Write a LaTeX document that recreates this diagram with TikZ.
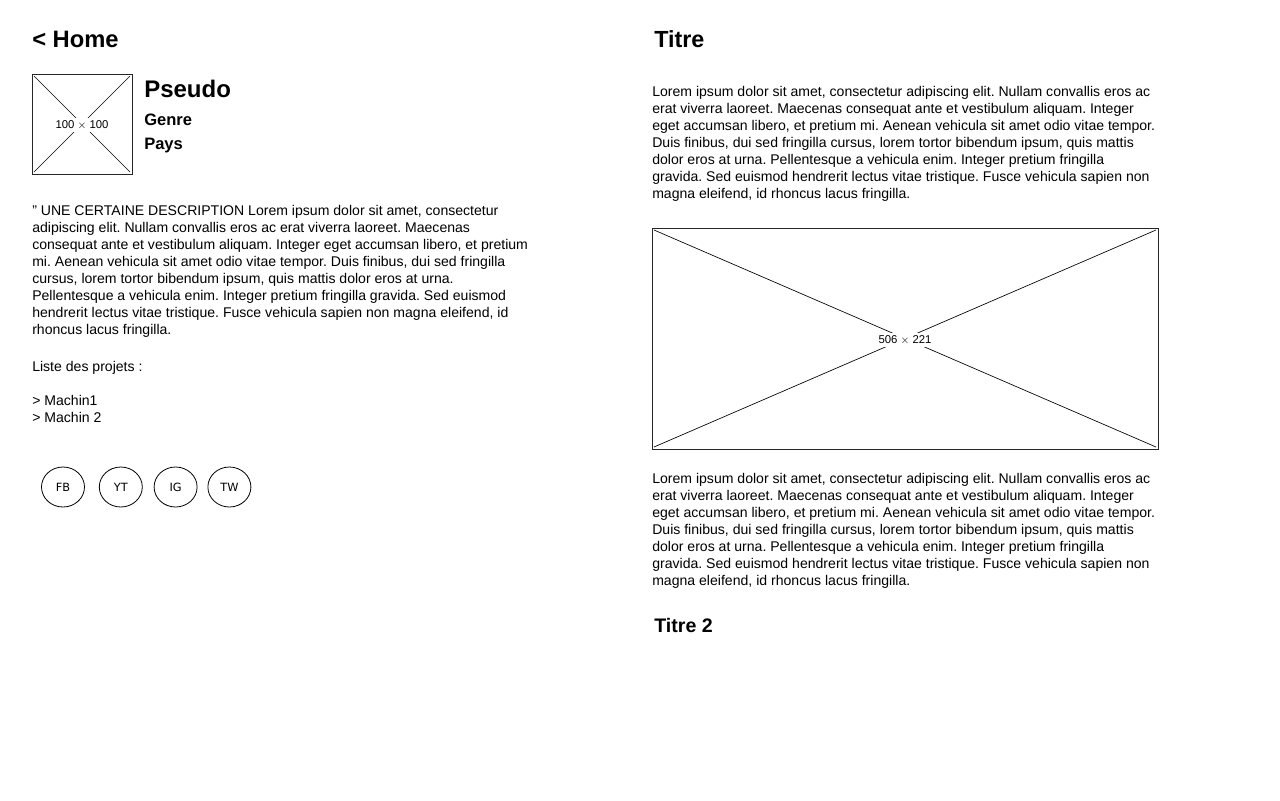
\documentclass[tikz,border=0pt]{standalone}
\usepackage{fontspec}
\setmainfont{Liberation Sans}
\newfontfamily\handfont{DejaVu Sans}
\usetikzlibrary{positioning, shapes.geometric}
\frenchspacing
\newcommand{\loremtxt}{Lorem ipsum dolor sit amet, consectetur adipiscing elit. Nullam convallis eros ac\\
erat viverra laoreet. Maecenas consequat ante et vestibulum aliquam. Integer\\
eget accumsan libero, et pretium mi. Aenean vehicula sit amet odio vitae tempor.\\
Duis finibus, dui sed fringilla cursus, lorem tortor bibendum ipsum, quis mattis\\
dolor eros at urna. Pellentesque a vehicula enim. Integer pretium fringilla\\
gravida. Sed euismod hendrerit lectus vitae tristique. Fusce vehicula sapien non\\
magna eleifend, id rhoncus lacus fringilla.}
\tikzset{
  bodytext/.style = {anchor = north west, inner sep = 0pt, align = left, font = \fontsize{10.55}{12.75}\selectfont},
  headtext/.style = {anchor = base west, inner sep = 0pt, font = \fontsize{17.8}{20}\selectfont\bfseries},
  subtext/.style = {anchor = base west, inner sep = 0pt, font = \fontsize{12.4}{14}\selectfont\bfseries},
  sketchbox/.style = {draw = black!85, line width = 0.6pt},
  sizelabel/.style = {fill = white, inner sep = 1.5pt, font = \fontsize{8.5}{10}\selectfont},
  social/.style = {draw, ellipse, line width = 0.6pt, minimum width = 43*0.75pt, minimum height = 40*0.75pt, inner sep = 0pt, font = \handfont\fontsize{8.5}{10}\selectfont}
}
\begin{document}
\begin{tikzpicture}[x = 0.75pt, y = -0.75pt]
\useasboundingbox[fill = white] (0, 0) rectangle (1280, 800);
% left column
\node[headtext] (home) at (32, 47) {< Home};
\draw[sketchbox] (32, 74) rectangle (132, 174);
\draw[line width = 0.5pt] (34, 76) -- (130, 172) (130, 76) -- (34, 172);
\node[sizelabel] (avatar) at (82, 125) {100 $\times$ 100};
\node[headtext, font = \fontsize{18}{20}\selectfont\bfseries] (pseudo) at (144, 97) {Pseudo};
\node[subtext] (genre) at (144, 125) {Genre};
\node[subtext] (pays) at (144, 149) {Pays};
\node[bodytext] (desc) at (32, 205) {\symbol{34} UNE CERTAINE DESCRIPTION Lorem ipsum dolor sit amet, consectetur\\
adipiscing elit. Nullam convallis eros ac erat viverra laoreet. Maecenas\\
consequat ante et vestibulum aliquam. Integer eget accumsan libero, et pretium\\
mi. Aenean vehicula sit amet odio vitae tempor. Duis finibus, dui sed fringilla\\
cursus, lorem tortor bibendum ipsum, quis mattis dolor eros at urna.\\
Pellentesque a vehicula enim. Integer pretium fringilla gravida. Sed euismod\\
hendrerit lectus vitae tristique. Fusce vehicula sapien non magna eleifend, id\\
rhoncus lacus fringilla.};
\node[bodytext] (projets) at (32, 361) {Liste des projets :\\[12.75pt]
> Machin1\\
> Machin 2};
\node[social] (fb) at (63, 487) {FB};
\node[social, right = 14*0.75pt of fb] (yt) {YT};
\node[social, right = 11*0.75pt of yt] (ig) {IG};
\node[social, right = 10*0.75pt of ig] (tw) {TW};
% right column
\node[headtext, font = \fontsize{17.5}{20}\selectfont\bfseries] (titre) at (654, 47) {Titre};
\node[bodytext] (texte1) at (652, 86) {\loremtxt};
\draw[sketchbox] (652, 228) rectangle (1158, 449);
\draw[line width = 0.5pt] (654, 230) -- (1156, 447) (1156, 230) -- (654, 447);
\node[sizelabel] (image) at (905, 340) {506 $\times$ 221};
\node[bodytext] (texte2) at (652, 473) {\loremtxt};
\node[headtext, font = \fontsize{14.7}{17}\selectfont\bfseries] (titre2) at (654, 632) {Titre 2};
\end{tikzpicture}
\end{document}
